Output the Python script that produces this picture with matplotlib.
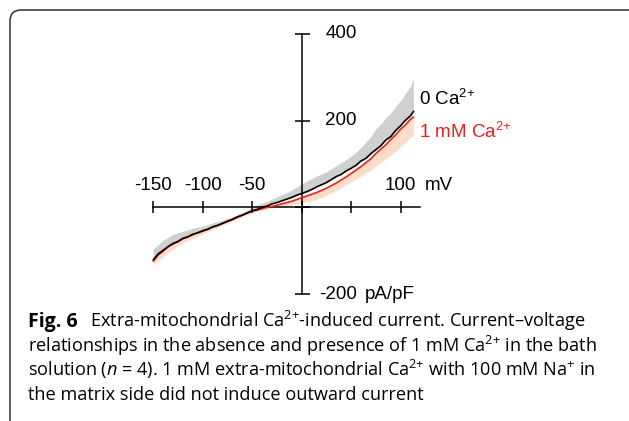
import matplotlib
matplotlib.use("Agg")
import matplotlib.pyplot as plt
from matplotlib.patches import FancyBboxPatch

plt.rcParams['mathtext.fontset'] = 'custom'
plt.rcParams['mathtext.rm'] = 'Open Sans'
plt.rcParams['mathtext.it'] = 'Open Sans:italic'

# membrane potential (mV)
voltage = [-150, -145, -140, -135, -130, -125, -120, -115, -110, -105,
           -100, -95, -90, -85, -80, -75, -70, -65, -60, -55,
           -50, -45, -40, -35, -30, -25, -20, -15, -10, -5,
           0, 5, 10, 15, 20, 25, 30, 35, 40, 45,
           50, 55, 60, 65, 70, 75, 80, 85, 90, 95,
           100, 105, 110, 113]

# 0 Ca2+ mean current (pA/pF) and mean + SEM
ca0_mean = [-121, -107, -99, -91, -83, -79, -72, -68, -62, -59,
            -54, -51, -45, -42, -37, -32, -28, -22, -18, -13,
            -8, -5, 0, 3, 8, 11, 15, 19, 23, 28,
            32, 36, 41, 47, 52, 57, 64, 71, 76, 84,
            90, 97, 107, 113, 124, 133, 142, 155, 163, 177,
            188, 201, 211, 221]
ca0_upper = [-96, -86, -76, -69, -62, -59, -55, -52, -48, -46,
             -43, -40, -36, -33, -29, -25, -21, -17, -12, -6,
             0, 5, 10, 14, 19, 24, 29, 34, 40, 47,
             54, 60, 66, 72, 77, 82, 89, 96, 103, 110,
             118, 127, 138, 151, 163, 181, 192, 207, 217, 233,
             246, 263, 279, 298]

# 1 mM Ca2+ mean current (pA/pF) and mean - SEM
ca1_mean = [-124, -110, -101, -90, -85, -78, -71, -68, -63, -58,
            -55, -50, -46, -41, -37, -33, -28, -23, -18, -13,
            -9, -6, -3, 0, 2, 5, 8, 11, 14, 18,
            22, 26, 30, 34, 39, 44, 50, 56, 63, 70,
            78, 86, 94, 103, 112, 124, 134, 144, 156, 167,
            180, 190, 203, 208]
ca1_lower = [-133, -122, -114, -104, -97, -88, -82, -76, -71, -66,
             -61, -56, -51, -46, -41, -37, -32, -27, -22, -17,
             -13, -10, -7, -4, -2, 0, 2, 4, 6, 7,
             9, 12, 15, 19, 23, 28, 33, 39, 45, 52,
             59, 66, 72, 80, 86, 95, 102, 112, 120, 130,
             140, 150, 161, 166]

x_labels = [-150, -100, -50]
y_labels = [400, 200, -200]

SUP2 = r'$^{\mathdefault{2}\mathdefault{+}}$'
SUP1 = r'$^{\mathdefault{+}}$'

fig = plt.figure(figsize=(6.29, 4.21), dpi=100)
ax = fig.add_axes([0.2359, 0.2964, 0.4402, 0.6282])

ax.fill_between(voltage, ca0_mean, ca0_upper, color='#d0d0d0', lw=0, zorder=1)
ax.fill_between(voltage, ca1_lower, ca1_mean, color='#fddcc8', lw=0, zorder=1)
ax.plot(voltage, ca1_mean, color='#e3231b', lw=1.2, zorder=3)
ax.plot(voltage, ca0_mean, color='black', lw=1.2, zorder=4)

ax.set_xlim(-155, 125)
ax.set_ylim(-205, 405)
for s in ['top', 'right']:
    ax.spines[s].set_visible(False)
ax.spines['left'].set_position('zero')
ax.spines['bottom'].set_position('zero')
ax.spines['left'].set_bounds(-200, 400)
ax.spines['bottom'].set_bounds(-150, 120)
for s in ['left', 'bottom']:
    ax.spines[s].set_linewidth(1.1)
    ax.spines[s].set_zorder(2)
ax.set_xticks([-150, -100, -50, 0, 50, 100])
ax.set_yticks([-200, 0, 200, 400])
ax.tick_params(axis='x', direction='inout', length=8.6, width=1.1,
               labelbottom=False)
ax.tick_params(axis='y', direction='inout', length=10.8, width=1.1,
               labelleft=False)
ax.patch.set_visible(False)

lab = dict(family='Liberation Sans', fontsize=13.5)
for v in x_labels:
    ax.text(v, 50, str(v), ha='center', va='center', **lab)
ax.text(100, 50, '100', ha='center', va='center', **lab)
ax.text(124.7, 50, 'mV', ha='left', va='center', **lab)
for v in y_labels:
    ax.text(55.6, v, str(v), ha='right', va='center', **lab)
ax.text(64, -200, 'pA/pF', ha='left', va='center', **lab)

ax.text(118.6, 250, '0 Ca' + SUP2, ha='left', va='center',
        color='black', **lab)
ax.text(118.6, 174, '1 mM Ca' + SUP2, ha='left', va='center',
        color='#e3231b', **lab)

# frame around figure (top and left edges visible)
frame = FancyBboxPatch((10, -100), 800, 511, boxstyle='round,pad=0,rounding_size=11',
                       transform=None, fill=False, ec='#333333', lw=1.1)
fig.patches.append(frame)

cap = dict(family='Open Sans', va='baseline', ha='left')
fig.text(28 / 629, 1 - 327 / 421, 'Fig. 6', fontweight='bold', fontsize=14, **cap)
fig.text(90 / 629, 1 - 327 / 421,
         'Extra-mitochondrial Ca' + SUP2 + '-induced current. Current–voltage',
         fontsize=13.1, **cap)
fig.text(28 / 629, 1 - 351.5 / 421,
         'relationships in the absence and presence of 1 mM Ca' + SUP2 + ' in the bath',
         fontsize=13.1, **cap)
fig.text(28 / 629, 1 - 375.8 / 421,
         r'solution ($\mathit{n}$ = 4). 1 mM extra-mitochondrial Ca' + SUP2
         + ' with 100 mM Na' + SUP1 + ' in', fontsize=13.1, **cap)
fig.text(28 / 629, 1 - 400 / 421,
         'the matrix side did not induce outward current', fontsize=13.1, **cap)

fig.savefig('out.png', dpi=100)
